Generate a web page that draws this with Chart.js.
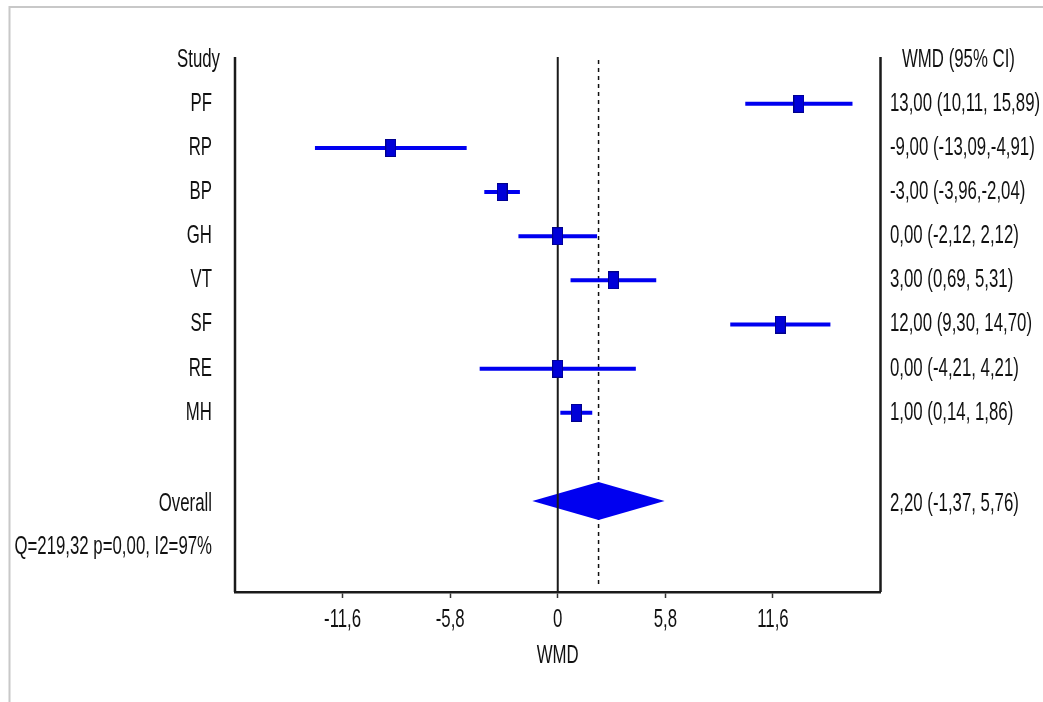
<!DOCTYPE html>
<html>
<head>
<meta charset="utf-8">
<script src="https://cdn.jsdelivr.net/npm/chart.js@4.4.1/dist/chart.umd.min.js"></script>
<style>
  html, body { margin: 0; padding: 0; background: #fff; }
  #wrap { width: 1043px; height: 702px; }
</style>
</head>
<body>
<div id="wrap"><canvas id="forest" width="1043" height="702"></canvas></div>
<script>
// study rows
var STUDIES = ["PF", "RP", "BP", "GH", "VT", "SF", "RE", "MH"];
var WMD     = [13.00, -9.00, -3.00, 0.00, 3.00, 12.00, 0.00, 1.00];
var LOWER   = [10.11, -13.09, -3.96, -2.12, 0.69, 9.30, -4.21, 0.14];
var UPPER   = [15.89, -4.91, -2.04, 2.12, 5.31, 14.70, 4.21, 1.86];

// pooled estimate
var OVERALL_WMD = 2.20;
var OVERALL_CI  = [-1.37, 5.76];
var HETEROGENEITY = "Q=219,32 p=0,00, I2=97%";

// x axis
var X_TICKS       = [-11.6, -5.8, 0, 5.8, 11.6];
var X_TICK_LABELS = ["-11,6", "-5,8", "0", "5,8", "11,6"];

var OVERALL_ROW = STUDIES.length + 1;
var HET_ROW = OVERALL_ROW + 1;

function num(v) { return v.toFixed(2).replace(".", ","); }
function ciText(e, lo, hi) {
  return num(e) + " (" + num(lo) + "," + (hi >= 0 ? " " : "") + num(hi) + ")";
}

// blue box marker
var box = document.createElement("canvas");
box.width = 11; box.height = 18;
(function () {
  var c = box.getContext("2d");
  c.fillStyle = "#0000d8";
  c.fillRect(0, 0, 11, 18);
  c.strokeStyle = "#00008a";
  c.lineWidth = 1;
  c.strokeRect(0.5, 0.5, 10, 17);
})();

var ciPoints = [];
STUDIES.forEach(function (s, i) {
  ciPoints.push({x: LOWER[i], y: i}, {x: UPPER[i], y: i}, {x: UPPER[i], y: null});
});

// narrow, slightly tall text like the original
function txt(ctx, s, x, y, align) {
  ctx.save();
  ctx.translate(x, y);
  ctx.scale(0.84, 1.26);
  ctx.font = '20px "Liberation Sans", Arial, sans-serif';
  ctx.fillStyle = "#111";
  ctx.textAlign = align;
  ctx.textBaseline = "middle";
  ctx.fillText(s, 0, 0);
  ctx.restore();
}

var forestPlugin = {
  id: "forest",
  beforeDraw: function (chart) {
    var ctx = chart.ctx;
    ctx.save();
    ctx.fillStyle = "#fff";
    ctx.fillRect(0, 0, chart.width, chart.height);
    ctx.strokeStyle = "#c8c8c8";
    ctx.lineWidth = 2;
    ctx.beginPath();
    ctx.moveTo(9.5, chart.height);
    ctx.lineTo(9.5, 7);
    ctx.lineTo(chart.width, 7);
    ctx.stroke();
    ctx.restore();
  },
  beforeDatasetsDraw: function (chart) {
    var ctx = chart.ctx, a = chart.chartArea;
    var x = chart.scales.x, y = chart.scales.y;
    ctx.save();
    // pooled line
    var xo = x.getPixelForValue(OVERALL_WMD);
    ctx.strokeStyle = "#111";
    ctx.lineWidth = 1.5;
    ctx.setLineDash([4, 4]);
    ctx.beginPath();
    ctx.moveTo(xo, a.top + 3);
    ctx.lineTo(xo, a.bottom - 4);
    ctx.stroke();
    ctx.setLineDash([]);
    // diamond
    var yc = y.getPixelForValue(OVERALL_ROW);
    ctx.fillStyle = "#0000f0";
    ctx.beginPath();
    ctx.moveTo(x.getPixelForValue(OVERALL_CI[0]), yc);
    ctx.lineTo(xo, yc - 19);
    ctx.lineTo(x.getPixelForValue(OVERALL_CI[1]), yc);
    ctx.lineTo(xo, yc + 19);
    ctx.closePath();
    ctx.fill();
    // no-effect line
    var x0 = x.getPixelForValue(0);
    ctx.strokeStyle = "#1a1a1a";
    ctx.lineWidth = 2;
    ctx.beginPath();
    ctx.moveTo(x0, a.top);
    ctx.lineTo(x0, a.bottom);
    ctx.stroke();
    // side frame
    ctx.lineWidth = 2.5;
    ctx.beginPath();
    ctx.moveTo(a.left, a.top);
    ctx.lineTo(a.left, a.bottom);
    ctx.moveTo(a.right, a.top);
    ctx.lineTo(a.right, a.bottom);
    ctx.stroke();
    ctx.restore();
  },
  afterDraw: function (chart) {
    var ctx = chart.ctx, a = chart.chartArea;
    var x = chart.scales.x, y = chart.scales.y;
    txt(ctx, "Study", 220, y.getPixelForValue(-1), "right");
    txt(ctx, "WMD (95% CI)", 902, y.getPixelForValue(-1), "left");
    STUDIES.forEach(function (s, i) {
      var py = y.getPixelForValue(i);
      txt(ctx, s, 212, py, "right");
      txt(ctx, ciText(WMD[i], LOWER[i], UPPER[i]), 890, py, "left");
    });
    var po = y.getPixelForValue(OVERALL_ROW) + 3;
    txt(ctx, "Overall", 212, po, "right");
    txt(ctx, ciText(OVERALL_WMD, OVERALL_CI[0], OVERALL_CI[1]), 890, po, "left");
    txt(ctx, HETEROGENEITY, 212, y.getPixelForValue(HET_ROW) + 2, "right");
    X_TICKS.forEach(function (v, i) {
      txt(ctx, X_TICK_LABELS[i], x.getPixelForValue(v), a.bottom + 28, "center");
    });
    txt(ctx, "WMD", x.getPixelForValue(0), a.bottom + 64, "center");
  }
};

new Chart(document.getElementById("forest").getContext("2d"), {
  type: "scatter",
  data: {
    datasets: [{
      label: "WMD",
      data: WMD.map(function (v, i) { return {x: v, y: i}; }),
      pointStyle: box,
      pointRadius: 6,
      showLine: false
    }, {
      label: "95% CI",
      data: ciPoints,
      showLine: true,
      spanGaps: false,
      borderColor: "#0000f0",
      borderWidth: 4,
      borderCapStyle: "butt",
      pointRadius: 0
    }]
  },
  options: {
    responsive: false,
    animation: false,
    layout: { padding: { left: 235, right: 162.5, top: 57, bottom: 0 } },
    plugins: { legend: { display: false }, tooltip: { enabled: false } },
    scales: {
      x: {
        type: "linear",
        min: -17.4,
        max: 17.4,
        afterBuildTicks: function (s) {
          s.ticks = X_TICKS.map(function (v) { return {value: v}; });
        },
        afterFit: function (s) { s.height = 110; },
        ticks: { display: false },
        grid: { drawOnChartArea: false, drawTicks: true, tickLength: 6, tickColor: "#333", tickWidth: 1.5 },
        border: { display: true, width: 2.5, color: "#1a1a1a" }
      },
      y: {
        type: "linear",
        display: false,
        reverse: true,
        min: -1.06,
        max: 11.06
      }
    }
  },
  plugins: [forestPlugin]
});
</script>
</body>
</html>
